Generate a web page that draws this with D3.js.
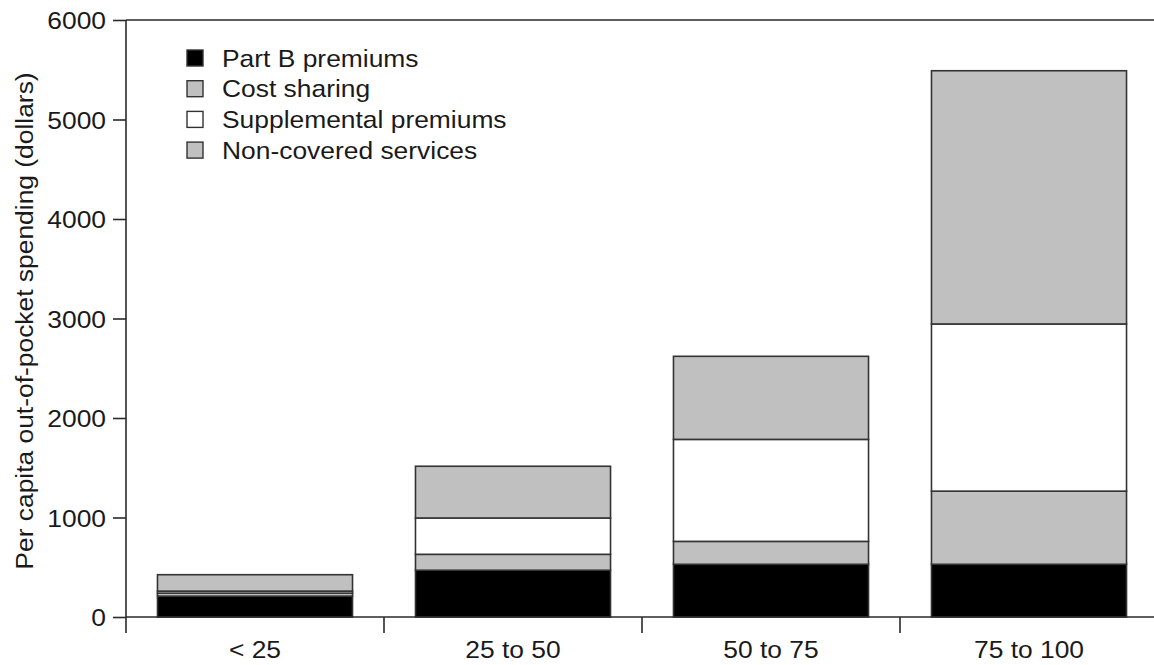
<!DOCTYPE html>
<html>
<head>
<meta charset="utf-8">
<script src="https://cdn.jsdelivr.net/npm/d3@7"></script>
<style>
  html, body { margin: 0; padding: 0; background: #fff; }
  svg { display: block; }
  text { font-family: "Liberation Sans", Arial, sans-serif; fill: #1a1a1a; }
</style>
</head>
<body>
<svg id="chart" width="1154" height="665"></svg>
<script>
const categories = ["< 25", "25 to 50", "50 to 75", "75 to 100"];
const seriesNames = ["Part B premiums", "Cost sharing", "Supplemental premiums", "Non-covered services"];
const partB = [210, 470, 530, 530];
const costSharing = [30, 160, 230, 735];
const supplemental = [20, 365, 1025, 1680];
const nonCovered = [165, 520, 835, 2545];
const yTicks = [0, 1000, 2000, 3000, 4000, 5000, 6000];
const yTitle = "Per capita out-of-pocket spending (dollars)";

const colors = ["#000000", "#c0c0c0", "#ffffff", "#c0c0c0"];
const seriesValues = [partB, costSharing, supplemental, nonCovered];
const rows = categories.map((c, i) => {
  const r = { cat: c };
  seriesNames.forEach((s, j) => r[s] = seriesValues[j][i]);
  return r;
});

const svg = d3.select("#chart");
const FS = 24, SX = 1.1;
const axisColor = "#2a2a2a";

const x = d3.scaleBand().domain(categories).range([126, 1158]).paddingInner(0.244).paddingOuter(0.122);
const y = d3.scaleLinear().domain([0, 6000]).range([617, 20]);

// stacked bars
const stack = d3.stack().keys(seriesNames)(rows);
const layers = svg.append("g").selectAll("g").data(stack).join("g")
  .attr("fill", (d, i) => colors[i]);
layers.selectAll("rect").data(d => d).join("rect")
  .attr("x", d => x(d.data.cat))
  .attr("width", x.bandwidth())
  .attr("y", d => y(d[1]))
  .attr("height", d => y(d[0]) - y(d[1]))
  .attr("stroke", "#333")
  .attr("stroke-width", 1.6);

// top frame line
svg.append("line").attr("x1", 126).attr("x2", 1154).attr("y1", y(6000)).attr("y2", y(6000))
  .attr("stroke", axisColor).attr("stroke-width", 1.6);

// y axis
const yAxis = svg.append("g").attr("transform", "translate(126,0)")
  .call(d3.axisLeft(y).tickValues(yTicks).tickSize(13).tickSizeOuter(0).tickFormat(d3.format("d")));
yAxis.select(".domain").remove();
yAxis.selectAll(".tick line").attr("stroke", axisColor).attr("stroke-width", 1.6);
yAxis.selectAll(".tick text")
  .attr("x", null).attr("dy", null)
  .attr("transform", "translate(-20,8.5) scale(" + SX + ",1)")
  .attr("text-anchor", "end")
  .style("font-size", FS + "px")
  .style("font-family", '"Liberation Sans", Arial, sans-serif')
  .attr("fill", "#1a1a1a");
svg.append("line").attr("x1", 126).attr("x2", 126).attr("y1", y(6000)).attr("y2", 633)
  .attr("stroke", axisColor).attr("stroke-width", 1.6);

// x axis
svg.append("line").attr("x1", 126).attr("x2", 1154).attr("y1", y(0)).attr("y2", y(0))
  .attr("stroke", axisColor).attr("stroke-width", 1.6);
const half = x.step() * x.paddingInner() / 2;
svg.append("g").selectAll("line").data(categories.slice(1)).join("line")
  .attr("x1", d => x(d) - half).attr("x2", d => x(d) - half)
  .attr("y1", y(0)).attr("y2", 633)
  .attr("stroke", axisColor).attr("stroke-width", 1.6);
svg.append("g").selectAll("text").data(categories).join("text")
  .attr("transform", d => "translate(" + (x(d) + x.bandwidth() / 2) + ",658) scale(" + SX + ",1)")
  .attr("text-anchor", "middle")
  .style("font-size", FS + "px")
  .text(d => d);

// y title
svg.append("text")
  .attr("transform", "translate(33,321) rotate(-90) scale(" + SX + ",1)")
  .attr("text-anchor", "middle")
  .style("font-size", FS + "px")
  .text(yTitle);

// legend
const legend = svg.append("g").selectAll("g").data(seriesNames).join("g")
  .attr("transform", (d, i) => "translate(187," + (58 + i * 30.7) + ")");
legend.append("rect").attr("x", 0).attr("y", -8).attr("width", 16).attr("height", 16)
  .attr("fill", (d, i) => colors[i]).attr("stroke", "#333").attr("stroke-width", 1.4);
legend.append("text")
  .attr("transform", "translate(35,8.5) scale(" + SX + ",1)")
  .style("font-size", FS + "px")
  .text(d => d);
</script>
</body>
</html>
